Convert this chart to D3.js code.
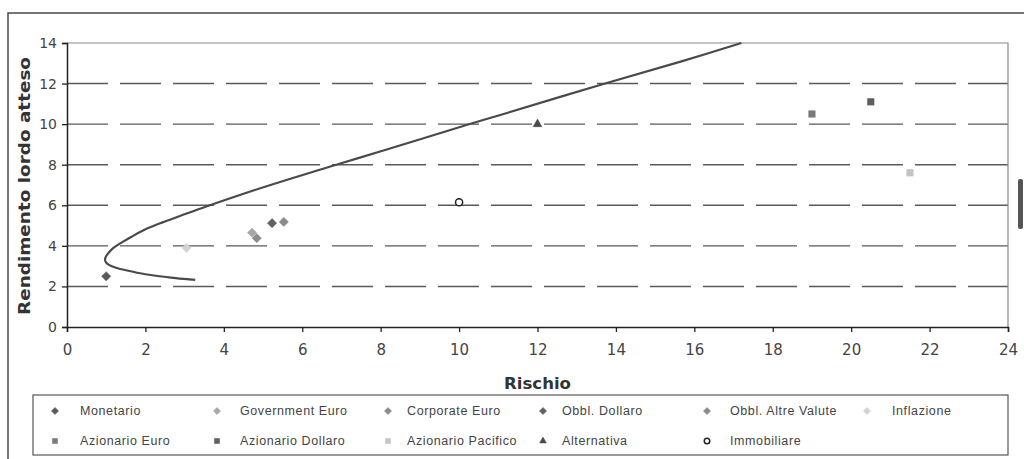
<!DOCTYPE html>
<html>
<head>
<meta charset="utf-8">
<script src="https://cdn.jsdelivr.net/npm/d3@7"></script>
<style>
  html, body { margin: 0; padding: 0; background: #fff; }
  svg { display: block; }
</style>
</head>
<body>
<svg id="chart" width="1024" height="459"></svg>
<script>
// Asset classes: name, risk (x), expected gross return (y)
const seriesNames = ["Monetario", "Government Euro", "Corporate Euro", "Obbl. Dollaro",
  "Obbl. Altre Valute", "Inflazione", "Azionario Euro", "Azionario Dollaro",
  "Azionario Pacifico", "Alternativa", "Immobiliare"];
const rischio    = [1.0, 4.72, 4.84, 5.23, 5.53, 3.05, 19.0, 20.5, 21.5, 12.0, 10.0];
const rendimento = [2.5, 4.65, 4.38, 5.12, 5.18, 3.9, 10.5, 11.1, 7.6, 10.0, 6.15];
const markerShape = ["diamond", "diamond", "diamond", "diamond", "diamond", "diamond",
  "square", "square", "square", "triangle", "circle"];
const markerColor = ["#5a5a5a", "#a8a8a8", "#8c8c8c", "#606060", "#8a8a8a", "#d2d2d2",
  "#7a7a7a", "#5e5e5e", "#c4c4c4", "#4a4a4a", "#222"];

// Efficient frontier (risk, return) along the curve
const frontierRischio    = [3.27, 2.6, 2.0, 1.5, 1.25, 1.08, 0.99, 0.97, 1.0, 1.08, 1.2, 1.38, 1.65, 2.04, 2.45, 2.88, 3.57, 4.93, 6.97, 8.07, 10.21, 11.05, 13.68, 15.65, 17.2];
const frontierRendimento = [2.32, 2.45, 2.6, 2.8, 2.92, 3.05, 3.2, 3.33, 3.5, 3.7, 3.92, 4.15, 4.45, 4.85, 5.17, 5.47, 5.95, 6.84, 8.06, 8.7, 9.97, 10.45, 11.98, 13.08, 14.0];

const xTicks = [0, 2, 4, 6, 8, 10, 12, 14, 16, 18, 20, 22, 24];
const yTicks = [0, 2, 4, 6, 8, 10, 12, 14];

const svg = d3.select("#chart");
const x = d3.scaleLinear().domain([0, 24]).range([67, 1008]);
const y = d3.scaleLinear().domain([0, 14]).range([327, 43]);

// Outer frame (top and left edges)
svg.append("path")
  .attr("d", "M8,459 L8,13 L1024,13")
  .attr("fill", "none").attr("stroke", "#4a4a4a").attr("stroke-width", 1.5);

// Small dark bar on the right edge
svg.append("rect").attr("x", 1018).attr("y", 179).attr("width", 5).attr("height", 50)
  .attr("rx", 2).attr("fill", "#555");

// Dashed horizontal gridlines
svg.append("g").selectAll("line")
  .data(yTicks.filter(d => d > 0 && d < 14))
  .join("line")
  .attr("x1", x(0)).attr("x2", x(24))
  .attr("y1", d => y(d)).attr("y2", d => y(d))
  .attr("stroke", "#5a5a5a").attr("stroke-width", 1.4)
  .attr("stroke-dasharray", "41,12");

// Plot area top and right borders
svg.append("path")
  .attr("d", `M${x(0)},${y(14)} L${x(24)},${y(14)} L${x(24)},${y(0)}`)
  .attr("fill", "none").attr("stroke", "#8a8a8a").attr("stroke-width", 1.2);

// Axes
const xAxis = svg.append("g").attr("transform", `translate(0,${y(0)})`)
  .call(d3.axisBottom(x).tickValues(xTicks).tickSize(5).tickPadding(12).tickFormat(d3.format("d")));
const yAxis = svg.append("g").attr("transform", `translate(${x(0)},0)`)
  .call(d3.axisLeft(y).tickValues(yTicks).tickSize(5).tickPadding(5).tickFormat(d3.format("d")));
[xAxis, yAxis].forEach(g => {
  g.select(".domain").attr("stroke", "#222").attr("stroke-width", 1.5);
  g.selectAll(".tick line").attr("stroke", "#222").attr("stroke-width", 1.3);
  g.selectAll("text").attr("fill", "#444").attr("font-family", "DejaVu Sans");
});
xAxis.selectAll("text").attr("font-size", 15);
yAxis.selectAll("text").attr("font-size", 14);

// Axis titles
svg.append("text")
  .attr("x", x(12)).attr("y", 389)
  .attr("text-anchor", "middle")
  .attr("font-family", "DejaVu Sans").attr("font-weight", "bold").attr("font-size", 15)
  .attr("fill", "#333")
  .attr("textLength", 67).attr("lengthAdjust", "spacingAndGlyphs")
  .text("Rischio");
svg.append("text")
  .attr("transform", "translate(30,186) rotate(-90)")
  .attr("text-anchor", "middle")
  .attr("font-family", "DejaVu Sans").attr("font-weight", "bold").attr("font-size", 15)
  .attr("fill", "#333")
  .attr("textLength", 258).attr("lengthAdjust", "spacingAndGlyphs")
  .text("Rendimento lordo atteso");

// Frontier curve
const frontier = frontierRischio.map((r, i) => [r, frontierRendimento[i]]);
svg.append("path")
  .datum(frontier)
  .attr("d", d3.line().x(d => x(d[0])).y(d => y(d[1])).curve(d3.curveCatmullRom.alpha(0.5)))
  .attr("fill", "none").attr("stroke", "#4a4a4a").attr("stroke-width", 2.2)
  .attr("stroke-linejoin", "round");

// Marker symbols
function symbolFor(shape, size) {
  const t = { diamond: d3.symbolDiamond2, square: d3.symbolSquare2,
              triangle: d3.symbolTriangle2, circle: d3.symbolCircle }[shape];
  return d3.symbol().type(t).size(size)();
}
function drawMarker(g, i, cx, cy, scale) {
  const shape = markerShape[i];
  const p = g.append("path")
    .attr("transform", `translate(${cx},${cy})`)
    .attr("d", symbolFor(shape, (shape === "circle" ? 40 : 55) * scale));
  if (shape === "circle") {
    p.attr("fill", "#fff").attr("stroke", markerColor[i]).attr("stroke-width", 1.5);
  } else {
    p.attr("fill", markerColor[i]).attr("stroke", markerColor[i]).attr("stroke-width", 0.5);
  }
}

const points = svg.append("g");
seriesNames.forEach((n, i) => drawMarker(points, i, x(rischio[i]), y(rendimento[i]), 1));

// Legend
const legend = svg.append("g");
legend.append("rect")
  .attr("x", 33).attr("y", 395).attr("width", 975).attr("height", 60)
  .attr("fill", "#fff").attr("stroke", "#555").attr("stroke-width", 1.2);
const colMarker = [55, 217, 388, 543, 707, 867];
const colText = [80, 240, 407, 562, 730, 892];
const rowY = [411, 441];
seriesNames.forEach((n, i) => {
  const row = i < 6 ? 0 : 1;
  const col = i < 6 ? i : i - 6;
  drawMarker(legend, i, colMarker[col], rowY[row], 0.6);
  legend.append("text")
    .attr("x", colText[col]).attr("y", rowY[row])
    .attr("dy", "0.35em")
    .attr("font-family", "Liberation Sans").attr("font-size", 12.5)
    .attr("letter-spacing", 0.6)
    .attr("fill", "#444")
    .text(n);
});
</script>
</body>
</html>
